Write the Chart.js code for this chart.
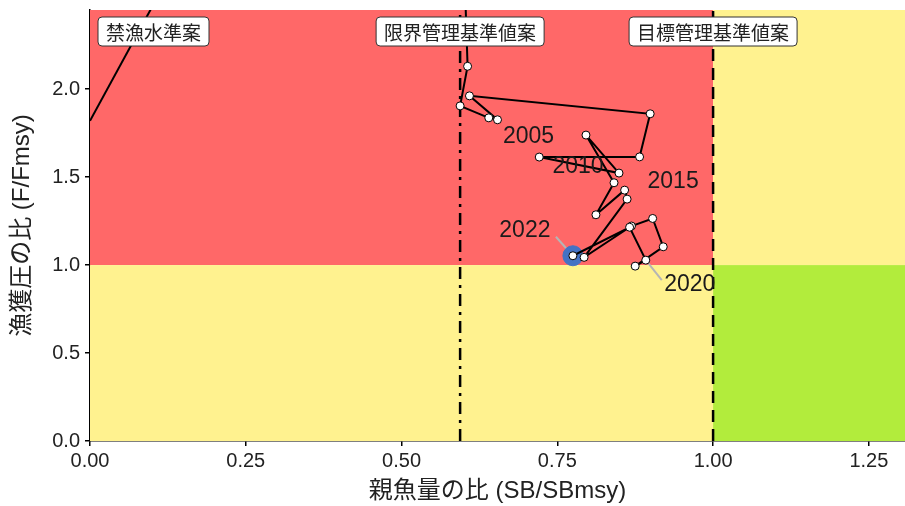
<!DOCTYPE html>
<html>
<head>
<meta charset="utf-8">
<script src="https://cdn.jsdelivr.net/npm/chart.js@4"></script>
<style>
  html, body { margin: 0; padding: 0; background: #fff; overflow: hidden; }
  #wrap { position: relative; width: 905px; height: 506px; }
  #kobe { display: block; }
</style>
</head>
<body>
<div id="wrap"><canvas id="kobe"></canvas></div>
<script>
// 神戸プロット データ
const years = [2001, 2002, 2003, 2004, 2005, 2006, 2007, 2008, 2009, 2010, 2011,
  2012, 2013, 2014, 2015, 2016, 2017, 2018, 2019, 2019.5, 2020, 2021, 2022];
const sbRatio = [0.596, 0.606, 0.594, 0.640, 0.654, 0.609, 0.899, 0.882, 0.721, 0.849, 0.796,
  0.841, 0.812, 0.858, 0.862, 0.793, 0.869, 0.903, 0.920, 0.875, 0.892, 0.866, 0.775];
const fRatio = [3.20, 2.13, 1.905, 1.837, 1.826, 1.962, 1.860, 1.615, 1.614, 1.523, 1.739,
  1.468, 1.286, 1.426, 1.375, 1.044, 1.222, 1.265, 1.104, 0.994, 1.028, 1.215, 1.053];

// 管理基準値案
const limitRef = 0.594;
const targetRef = 1.0;
const banLineX = [0, 0.10];
const banLineY = [1.82, 2.47];

const xTicks = [0, 0.25, 0.5, 0.75, 1.0, 1.25];
const yTicks = [0, 0.5, 1.0, 1.5, 2.0];

const xMax = 1.308;
const yMax = 2.45;

const refLabels = ['禁漁水準案', '限界管理基準値案', '目標管理基準値案'];
const tagYears = [2005, 2010, 2015, 2020, 2022];

const trajectory = sbRatio.map((v, i) => ({ x: v, y: fRatio[i] }));
const last = trajectory[trajectory.length - 1];

// 年ラベルの位置 (点からのずれ, px) と引き出し線の先
const tagOffsets = {
  2005: [31, 17, null],
  2010: [-41, -6, null],
  2015: [46, -17, null],
  2020: [44, 25, [16, 20]],
  2022: [-48, -25, [-17, -19]]
};

// ゾーンの背景と引き出し線
const zonePlugin = {
  id: 'zones',
  beforeDatasetsDraw(chart) {
    const { ctx, chartArea: a, scales: { x, y } } = chart;
    const x1 = x.getPixelForValue(targetRef);
    const y1 = y.getPixelForValue(1.0);
    ctx.save();
    ctx.fillStyle = 'rgb(255,104,104)';
    ctx.fillRect(a.left, a.top, x1 - a.left, y1 - a.top);
    ctx.fillStyle = 'rgb(255,242,143)';
    ctx.fillRect(x1, a.top, a.right - x1, y1 - a.top);
    ctx.fillRect(a.left, y1, x1 - a.left, a.bottom - y1);
    ctx.fillStyle = 'rgb(178,236,60)';
    ctx.fillRect(x1, y1, a.right - x1, a.bottom - y1);

    ctx.strokeStyle = '#b5b5b5';
    ctx.lineWidth = 2;
    tagYears.forEach(yr => {
      const i = years.indexOf(yr);
      const seg = tagOffsets[yr][2];
      if (i < 0 || !seg) return;
      const px = x.getPixelForValue(sbRatio[i]);
      const py = y.getPixelForValue(fRatio[i]);
      ctx.beginPath();
      ctx.moveTo(px, py);
      ctx.lineTo(px + seg[0], py + seg[1]);
      ctx.stroke();
    });
    ctx.restore();
  }
};

const labelPlugin = {
  id: 'labels',
  afterDatasetsDraw(chart) {
    const { ctx, chartArea: a, scales: { x, y } } = chart;
    ctx.save();
    // 年
    ctx.font = '23px "Liberation Sans", Arial, sans-serif';
    ctx.textAlign = 'center';
    ctx.textBaseline = 'middle';
    ctx.fillStyle = '#1a1a1a';
    tagYears.forEach(yr => {
      const i = years.indexOf(yr);
      if (i < 0) return;
      const px = x.getPixelForValue(sbRatio[i]);
      const py = y.getPixelForValue(fRatio[i]);
      const [dx, dy] = tagOffsets[yr];
      ctx.fillText(String(yr), px + dx, py + dy);
    });

    // 基準値ラベル
    ctx.font = '19px "Noto Sans CJK JP", sans-serif';
    const centers = [null, x.getPixelForValue(limitRef), x.getPixelForValue(targetRef)];
    refLabels.forEach((txt, k) => {
      const w = ctx.measureText(txt).width + 16;
      const h = 29;
      const left = k === 0 ? a.left + 8 : centers[k] - w / 2;
      const top = a.top + 7;
      ctx.fillStyle = '#fff';
      ctx.strokeStyle = '#333';
      ctx.lineWidth = 1;
      ctx.beginPath();
      ctx.roundRect(left, top, w, h, 4);
      ctx.fill();
      ctx.stroke();
      ctx.fillStyle = '#222';
      ctx.textAlign = 'center';
      ctx.fillText(txt, left + w / 2, top + h / 2 + 1);
    });
    ctx.restore();
  }
};

const data = {
  datasets: [
    {
      label: 'ban',
      data: banLineX.map((v, i) => ({ x: v, y: banLineY[i] })),
      showLine: true,
      borderColor: '#000',
      borderWidth: 2,
      pointRadius: 0,
      order: 5
    },
    {
      label: 'limit',
      data: [{ x: limitRef, y: 0 }, { x: limitRef, y: yMax }],
      showLine: true,
      borderColor: '#000',
      borderWidth: 2.5,
      borderDash: [12, 6, 3, 6],
      pointRadius: 0,
      order: 5
    },
    {
      label: 'target',
      data: [{ x: targetRef, y: 0 }, { x: targetRef, y: yMax }],
      showLine: true,
      borderColor: '#000',
      borderWidth: 2.5,
      borderDash: [12, 7],
      pointRadius: 0,
      order: 5
    },
    {
      label: 'latest',
      data: [last],
      pointRadius: 10,
      pointBackgroundColor: 'rgb(68,114,196)',
      pointBorderColor: 'rgb(68,114,196)',
      order: 3
    },
    {
      label: 'trajectory',
      data: trajectory,
      showLine: true,
      borderColor: '#000',
      borderWidth: 2,
      pointRadius: 4,
      pointBackgroundColor: '#fff',
      pointBorderColor: '#000',
      pointBorderWidth: 1,
      order: 1
    }
  ]
};

const config = {
  type: 'scatter',
  data: data,
  options: {
    responsive: true,
    maintainAspectRatio: false,
    animation: false,
    layout: { autoPadding: false, padding: { top: 10, right: 0, left: 0, bottom: 0 } },
    plugins: { legend: { display: false }, tooltip: { enabled: false } },
    scales: {
      x: {
        type: 'linear',
        min: 0,
        max: xMax,
        afterFit(scale) {
          scale.height = 65;
          scale.paddingLeft = 0;
          scale.paddingRight = 0;
        },
        afterBuildTicks(scale) { scale.ticks = xTicks.map(v => ({ value: v })); },
        ticks: {
          callback: v => Number(v).toFixed(2),
          font: { family: '"Liberation Sans", sans-serif', size: 20 },
          color: '#222',
          padding: 3,
          maxRotation: 0
        },
        grid: { drawOnChartArea: false, drawTicks: true, tickLength: 5, color: '#000', lineWidth: 1.5 },
        border: { display: true, color: '#000', width: 1.5 },
        title: {
          display: true,
          text: '親魚量の比 (SB/SBmsy)',
          font: { family: '"Liberation Sans", "Noto Sans CJK JP", sans-serif', size: 24 },
          color: '#222',
          padding: { top: 0, bottom: 0 }
        }
      },
      y: {
        type: 'linear',
        min: 0,
        max: yMax,
        afterFit(scale) {
          scale.width = 90;
          scale.paddingTop = 0;
          scale.paddingBottom = 0;
        },
        afterBuildTicks(scale) { scale.ticks = yTicks.map(v => ({ value: v })); },
        ticks: {
          callback: v => Number(v).toFixed(1),
          font: { family: '"Liberation Sans", sans-serif', size: 20 },
          color: '#222',
          padding: 5
        },
        grid: { drawOnChartArea: false, drawTicks: true, tickLength: 5, color: '#000', lineWidth: 1.5 },
        border: { display: true, color: '#000', width: 1.5 },
        title: {
          display: true,
          text: '漁獲圧の比 (F/Fmsy)',
          font: { family: '"Liberation Sans", "Noto Sans CJK JP", sans-serif', size: 24 },
          color: '#222',
          padding: { top: 8, bottom: 0 }
        }
      }
    }
  },
  plugins: [zonePlugin, labelPlugin]
};

const kobeChart = new Chart(document.getElementById('kobe'), config);
</script>
</body>
</html>
